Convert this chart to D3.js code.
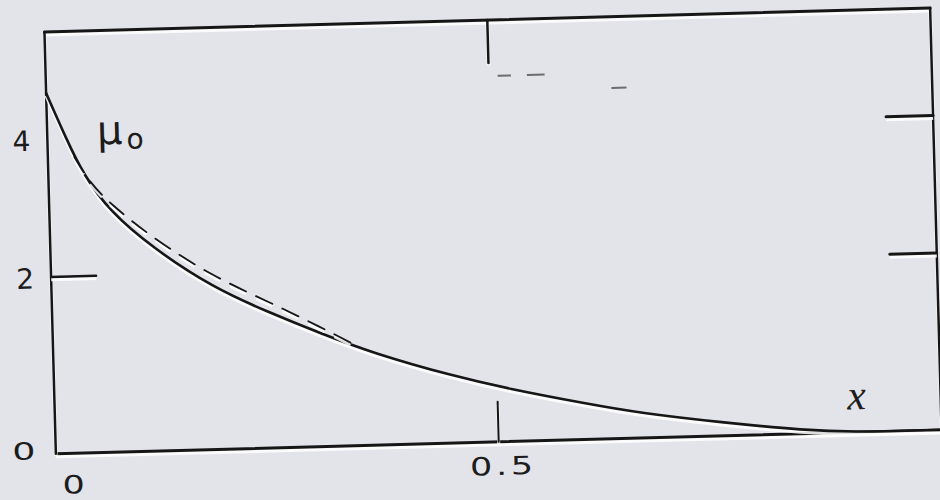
<!DOCTYPE html>
<html lang="en">
<head>
<meta charset="UTF-8">
<title>mu0 profile</title>
<script src="https://d3js.org/d3.v7.min.js"></script>
<style>
    body{
        margin: 0;
        background: #e3e3ea;
    }
    .lbl{
        font-family: "DejaVu Sans", sans-serif;
        font-size: 28px;
        fill: #1c1c1c;
    }
    .ink{
        fill: none;
        stroke: #161616;
        stroke-linecap: round;
    }
    .halo{
        fill: none;
        stroke: #ffffff;
        stroke-opacity: 0.85;
    }
</style>
</head>
<body>
<svg id="fig" width="940" height="500"></svg>
<script>
    // solid curve mu_0(x)
    let xs = [0, 0.022, 0.039, 0.068, 0.116, 0.182, 0.243, 0.302, 0.361, 0.451, 0.511, 0.601, 0.660, 0.751, 0.848, 0.9, 1.0]
    let mu0 = [4.72, 3.98, 3.47, 2.90, 2.36, 1.80, 1.46, 1.17, 0.91, 0.62, 0.47, 0.29, 0.19, 0.09, 0.015, 0, 0]
    // dashed approximation (only drawn over the first part)
    let xsDash = [0.03, 0.045, 0.068, 0.116, 0.182, 0.243, 0.302, 0.345]
    let muDash = [3.72, 3.36, 3.02, 2.50, 1.95, 1.60, 1.25, 0.99]
    // faint dash marks near the top of the frame
    let ghostX0 = [0.510, 0.543, 0.638]
    let ghostX1 = [0.525, 0.563, 0.655]
    let ghostY = [4.8, 4.8, 4.56]

    let leftTicks = [2]
    let rightTicks = [4, 2]
    let bottomTicks = [0.5]
    let topTicks = [0.5]
    let yLabels = ["0", "2", "4"]
    let xLabels = ["0", "0.5"]

    let svg = d3.select("#fig")
    svg.append("rect").attr("width", 940).attr("height", 500).attr("fill", "#e3e3ea")

    // the scan is tilted a little
    let g = svg.append("g").attr("transform", "rotate(-1.55,490,231)")

    let x = d3.scaleLinear().domain([0, 1]).range([50, 936])
    let y = d3.scalePow().exponent(0.83).domain([0, 5.7]).range([442, 20])

    function inked(path, width, dash) {
        g.append("path").attr("class", "halo").attr("d", path)
            .attr("stroke-width", width + 1).attr("transform", "translate(0,2.5)")
            .attr("stroke-dasharray", dash || null)
        g.append("path").attr("class", "ink").attr("d", path)
            .attr("stroke-width", width)
            .attr("stroke-dasharray", dash || null)
    }

    // frame
    let x0 = x(0), x1 = x(1), yb = y(0), yt = y(5.7)
    inked(d3.line()([[x0, yt], [x1, yt]]), 3)
    inked(d3.line()([[x0, yb], [x1 + 4, yb]]), 3)
    inked(d3.line()([[x0, yt], [x0, yb]]), 2.5)
    inked(d3.line()([[x1, yt], [x1, yb + 6]]), 2.5)

    // ticks
    leftTicks.forEach(v => inked(d3.line()([[x0, y(v)], [x0 + 45, y(v)]]), 2.5))
    rightTicks.forEach(v => inked(d3.line()([[x1, y(v)], [x1 - 47, y(v)]]), 3))
    bottomTicks.forEach(v => inked(d3.line()([[x(v), yb], [x(v), yb - 40]]), 2))
    topTicks.forEach(v => inked(d3.line()([[x(v), yt], [x(v), yt + 43]]), 2.5))

    // curves
    let line = d3.line().x(d => x(d[0])).y(d => y(d[1])).curve(d3.curveBasis)
    inked(line(d3.zip(xs, mu0)), 2.6)
    inked(line(d3.zip(xsDash, muDash)), 1.8, "18,11")

    ghostX0.forEach((a, i) => {
        g.append("line")
            .attr("x1", x(a)).attr("x2", x(ghostX1[i]))
            .attr("y1", y(ghostY[i])).attr("y2", y(ghostY[i]))
            .attr("stroke", "#3a3a3a").attr("stroke-width", 2).attr("stroke-opacity", 0.7)
    })

    // y labels
    yLabels.forEach(t => {
        let v = +t
        let lab = g.append("text").attr("class", "lbl").attr("text-anchor", "middle").text(t)
        if (v === 0) {
            lab.attr("transform", "translate(18," + (y(0) + 5) + ") scale(1.3,0.85)")
        } else {
            lab.attr("x", 24).attr("y", y(v) + 11)
        }
    })
    // x labels
    xLabels.forEach(t => {
        let zero = t === "0"
        g.append("text").attr("class", "lbl").attr("text-anchor", "middle")
            .attr("letter-spacing", zero ? 0 : 3)
            .attr("transform", "translate(" + (x(+t) + (zero ? 17 : 4)) + "," + (yb + (zero ? 40 : 33)) + ") scale(1.25,0.9)")
            .text(t)
    })

    // curve and axis names
    let mu = g.append("text").attr("class", "lbl")
        .attr("x", x(0.056)).attr("y", y(3.9))
        .style("font-size", "40px")
    mu.append("tspan").text("μ")
    mu.append("tspan").attr("dy", 5).attr("dx", 4).style("font-size", "28px").text("o")

    g.append("text")
        .attr("x", x(0.905)).attr("y", yb - 23)
        .attr("text-anchor", "middle")
        .style("font-family", "'Liberation Serif', serif")
        .style("font-style", "italic")
        .style("font-size", "42px")
        .attr("fill", "#1c1c1c")
        .text("x")
</script>
</body>
</html>
